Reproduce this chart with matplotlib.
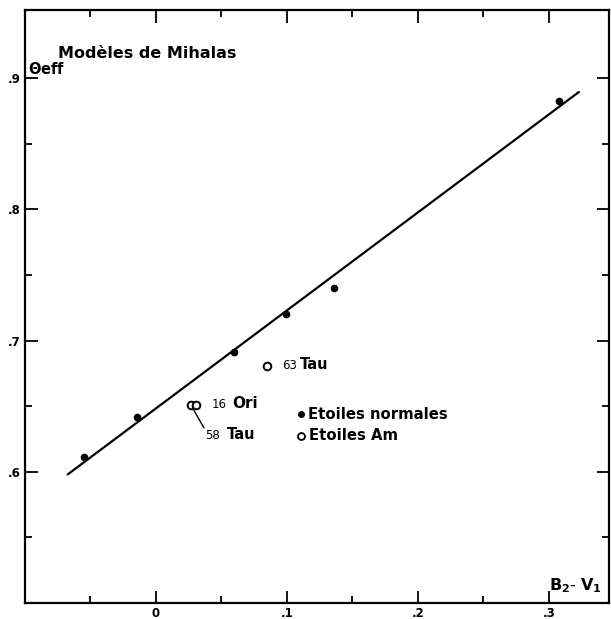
import matplotlib.pyplot as plt
from matplotlib.ticker import FixedLocator, FixedFormatter

# etoiles normales (points pleins)
normal_x = [-0.055, -0.0145, 0.0598, 0.099, 0.136, 0.308]
normal_y = [0.611, 0.642, 0.691, 0.720, 0.740, 0.883]
# etoiles Am (cercles)
am_x = [0.0267, 0.0305, 0.085]
am_y = [0.651, 0.651, 0.681]
# droite des modeles de Mihalas
fit_x = [-0.0674, 0.323]
fit_y = [0.598, 0.8895]

xticks_major = [0, 0.1, 0.2, 0.3]
xticklabels = ['0', '.1', '.2', '.3']
xticks_minor = [-0.05, 0.05, 0.15, 0.25]
yticks_major = [0.6, 0.7, 0.8, 0.9]
yticklabels = ['.6', '.7', '.8', '.9']
yticks_minor = [0.55, 0.65, 0.75, 0.85]

fig = plt.figure(figsize=(6.11, 6.19), dpi=100)
ax = fig.add_axes([25/611, 16/619, 584/611, 593/619])

ax.plot(fit_x, fit_y, color='black', lw=1.6, solid_capstyle='round')
ax.plot(normal_x, normal_y, 'o', color='black', ms=4.5)
ax.plot(am_x, am_y, 'o', mfc='white', mec='black', ms=5.5, mew=1.4)

# legende
ax.plot([0.1105], [0.644], 'o', color='black', ms=4)
ax.plot([0.1105], [0.627], 'o', mfc='white', mec='black', ms=5, mew=1.3)
ax.text(0.116, 0.644, 'Etoiles normales', fontsize=10.7, fontweight='bold', va='center')
ax.text(0.117, 0.628, 'Etoiles Am', fontsize=10.7, fontweight='bold', va='center')

# noms des etoiles
ax.text(0.096, 0.681, '63', fontsize=8.5, va='center')
ax.text(0.110, 0.682, 'Tau', fontsize=10.5, fontweight='bold', va='center')
ax.text(0.0425, 0.651, '16', fontsize=8.5, va='center')
ax.text(0.058, 0.652, 'Ori', fontsize=11, fontweight='bold', va='center')
ax.text(0.0374, 0.6275, '58', fontsize=8.5, va='center')
ax.text(0.054, 0.6285, 'Tau', fontsize=10.5, fontweight='bold', va='center')
ax.plot([0.028, 0.0366], [0.6486, 0.6336], color='black', lw=1)

ax.text(-0.075, 0.919, 'Modèles de Mihalas', fontsize=11.5, fontweight='bold', va='center')
ax.text(-0.0975, 0.907, r'$\mathbf{\Theta}$eff', fontsize=10.5, fontweight='bold', va='center')
ax.text(0.300, 0.513, r'$\mathbf{B_2}$- $\mathbf{V_1}$', fontsize=11.5, va='center')

ax.set_xlim(-0.1, 0.346)
ax.set_ylim(0.5, 0.952)

ax.xaxis.set_major_locator(FixedLocator(xticks_major))
ax.xaxis.set_major_formatter(FixedFormatter(xticklabels))
ax.xaxis.set_minor_locator(FixedLocator(xticks_minor))
ax.yaxis.set_major_locator(FixedLocator(yticks_major))
ax.yaxis.set_major_formatter(FixedFormatter(yticklabels))
ax.yaxis.set_minor_locator(FixedLocator(yticks_minor))
ax.tick_params(which='both', direction='in', top=True, right=True, width=1.3)
ax.tick_params(which='major', length=9, labelsize=8.5, pad=3)
ax.tick_params(which='minor', length=5)
for lab in ax.get_xticklabels() + ax.get_yticklabels():
    lab.set_fontweight('bold')
for s in ax.spines.values():
    s.set_linewidth(1.6)

fig.savefig('out.png', dpi=100)
